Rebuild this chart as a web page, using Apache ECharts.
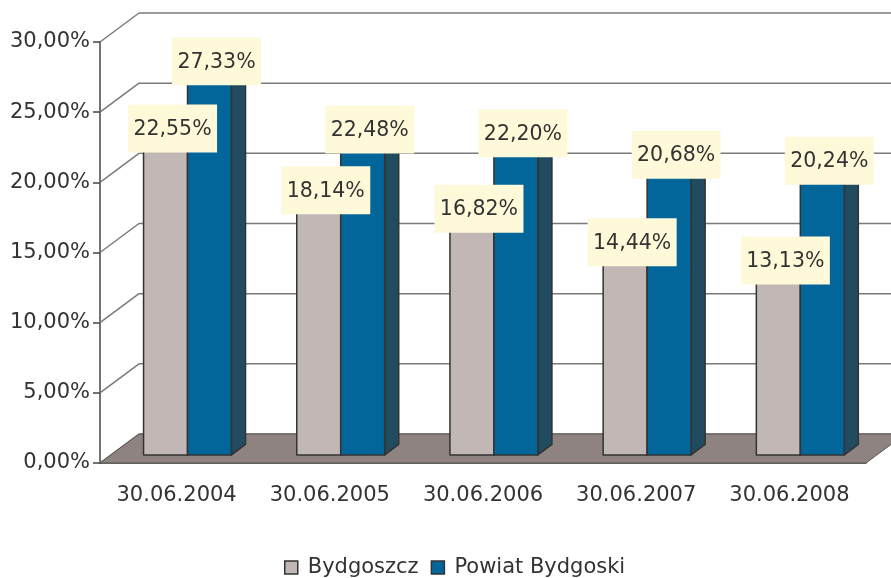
<!DOCTYPE html>
<html>
<head>
<meta charset="utf-8">
<script src="https://cdn.jsdelivr.net/npm/echarts@6/dist/echarts.min.js"></script>
<style>
  html, body { margin: 0; padding: 0; background: #fff; }
  #chart { width: 891px; height: 578px; }
</style>
</head>
<body>
<div id="chart"></div>
<script>
// dane
var categories = ['30.06.2004', '30.06.2005', '30.06.2006', '30.06.2007', '30.06.2008'];
var bydgoszcz = [22.55, 18.14, 16.82, 14.44, 13.13];
var powiat = [27.33, 22.48, 22.20, 20.68, 20.24];
var yTicks = [0, 5, 10, 15, 20, 25, 30];

// 3d look
var DX = 39, DY = -29;      // depth of floor / walls
var F0 = 0.28, DEPTH = 0.36; // bars position in depth
var FONT = 'DejaVu Sans';

var colors = {
  Bydgoszcz: { front: '#c1b8b6', side: '#8e8583', top: '#d9d2d0' },
  Powiat: { front: '#02669a', side: '#214c60', top: '#3c87b1' }
};

function pct(v) {
  return v.toFixed(2).replace('.', ',') + '%';
}

function barItem(k, pal) {
  return function (params, api) {
    var i = api.value(0), v = api.value(1);
    var base = api.coord([i, 0]);
    var top = api.coord([i, v]);
    var bw = api.size([1, 0])[0];
    var w = bw * 0.287;
    var x0 = base[0] + DX * F0 - w + k * w;
    var yb = base[1] + DY * F0;
    var yt = top[1] + DY * F0;
    var ddx = DX * DEPTH, ddy = DY * DEPTH;
    var st = { stroke: '#333', lineWidth: 1.5, lineJoin: 'round' };
    return {
      type: 'group',
      children: [
        { type: 'polygon', shape: { points: [[x0 + w, yb], [x0 + w + ddx, yb + ddy], [x0 + w + ddx, yt + ddy], [x0 + w, yt]] },
          style: Object.assign({ fill: pal.side }, st) },
        { type: 'polygon', shape: { points: [[x0, yt], [x0 + w, yt], [x0 + w + ddx, yt + ddy], [x0 + ddx, yt + ddy]] },
          style: Object.assign({ fill: pal.top }, st) },
        { type: 'rect', shape: { x: x0, y: yt, width: w, height: yb - yt },
          style: Object.assign({ fill: pal.front }, st) }
      ]
    };
  };
}

function labelItem(k) {
  return function (params, api) {
    var i = api.value(0), v = api.value(1);
    var base = api.coord([i, 0]);
    var top = api.coord([i, v]);
    var bw = api.size([1, 0])[0];
    var w = bw * 0.287;
    var x0 = base[0] + DX * F0 - w + k * w;
    var cx = x0 + w / 2 + DX * DEPTH / 2;
    var cy = top[1] + DY * F0 - 10;
    return {
      type: 'group',
      children: [
        { type: 'rect', shape: { x: cx - 44.5, y: cy - 24, width: 89, height: 48 },
          style: { fill: '#fef9d9' } },
        { type: 'text', style: { x: cx, y: cy + 1, text: pct(v), align: 'center', verticalAlign: 'middle',
          fill: '#333', font: '20.5px "' + FONT + '"' } }
      ]
    };
  };
}

var chart = echarts.init(document.getElementById('chart'));
chart.setOption({
  animation: false,
  grid: { left: 100, right: 25, top: 42, bottom: 115 },
  legend: {
    data: ['Bydgoszcz', 'Powiat Bydgoski'],
    left: 279, top: 552,
    icon: 'rect', itemWidth: 13, itemHeight: 13, itemGap: 12,
    itemStyle: { borderColor: '#333', borderWidth: 1.5 },
    textStyle: { fontFamily: FONT, fontSize: 21, color: '#333', padding: [0, 0, 0, 5] }
  },
  xAxis: {
    type: 'category',
    data: categories,
    axisLine: { lineStyle: { color: '#444', width: 1.5 } },
    axisTick: { length: 6, lineStyle: { color: '#444', width: 1.5 } },
    axisLabel: { interval: 0, fontFamily: FONT, fontSize: 21, color: '#333', margin: 22 },
    splitLine: { show: false }
  },
  yAxis: {
    type: 'value',
    min: 0, max: 30, interval: 5,
    axisLine: { show: true, lineStyle: { color: '#444', width: 1.5 } },
    axisTick: { show: true, length: 7, lineStyle: { color: '#444', width: 1.5 } },
    axisLabel: { fontFamily: FONT, fontSize: 21, color: '#333', margin: 10, formatter: pct },
    splitLine: { show: false }
  },
  series: [
    {
      name: 'walls', type: 'custom', z: 1, silent: true,
      data: yTicks.map(function (v) { return [0, v]; }),
      renderItem: function (params, api) {
        var cs = params.coordSys;
        var y = api.coord([0, api.value(1)])[1];
        var ls = { stroke: '#7a7a7a', lineWidth: 1.5 };
        return {
          type: 'group',
          children: [
            { type: 'line', shape: { x1: cs.x, y1: y, x2: cs.x + DX, y2: y + DY }, style: ls },
            { type: 'line', shape: { x1: cs.x + DX, y1: y + DY, x2: cs.x + cs.width + DX + 10, y2: y + DY }, style: ls }
          ]
        };
      }
    },
    {
      name: 'floor', type: 'custom', z: 2, silent: true,
      data: [[0, 0]],
      renderItem: function (params, api) {
        var cs = params.coordSys;
        var y = api.coord([0, 0])[1];
        return {
          type: 'polygon',
          shape: { points: [[cs.x, y], [cs.x + cs.width, y], [cs.x + cs.width + DX, y + DY], [cs.x + DX, y + DY]] },
          style: { fill: '#8e8380', stroke: '#555', lineWidth: 1 }
        };
      }
    },
    {
      name: 'Bydgoszcz', type: 'custom', z: 3,
      itemStyle: { color: colors.Bydgoszcz.front },
      data: bydgoszcz.map(function (v, i) { return [i, v]; }),
      renderItem: barItem(0, colors.Bydgoszcz)
    },
    {
      name: 'Powiat Bydgoski', type: 'custom', z: 3,
      itemStyle: { color: colors.Powiat.front },
      data: powiat.map(function (v, i) { return [i, v]; }),
      renderItem: barItem(1, colors.Powiat)
    },
    {
      name: 'Bydgoszcz', type: 'custom', z: 5,
      itemStyle: { color: colors.Bydgoszcz.front },
      data: bydgoszcz.map(function (v, i) { return [i, v]; }),
      renderItem: labelItem(0)
    },
    {
      name: 'Powiat Bydgoski', type: 'custom', z: 5,
      itemStyle: { color: colors.Powiat.front },
      data: powiat.map(function (v, i) { return [i, v]; }),
      renderItem: labelItem(1)
    }
  ]
});
</script>
</body>
</html>
